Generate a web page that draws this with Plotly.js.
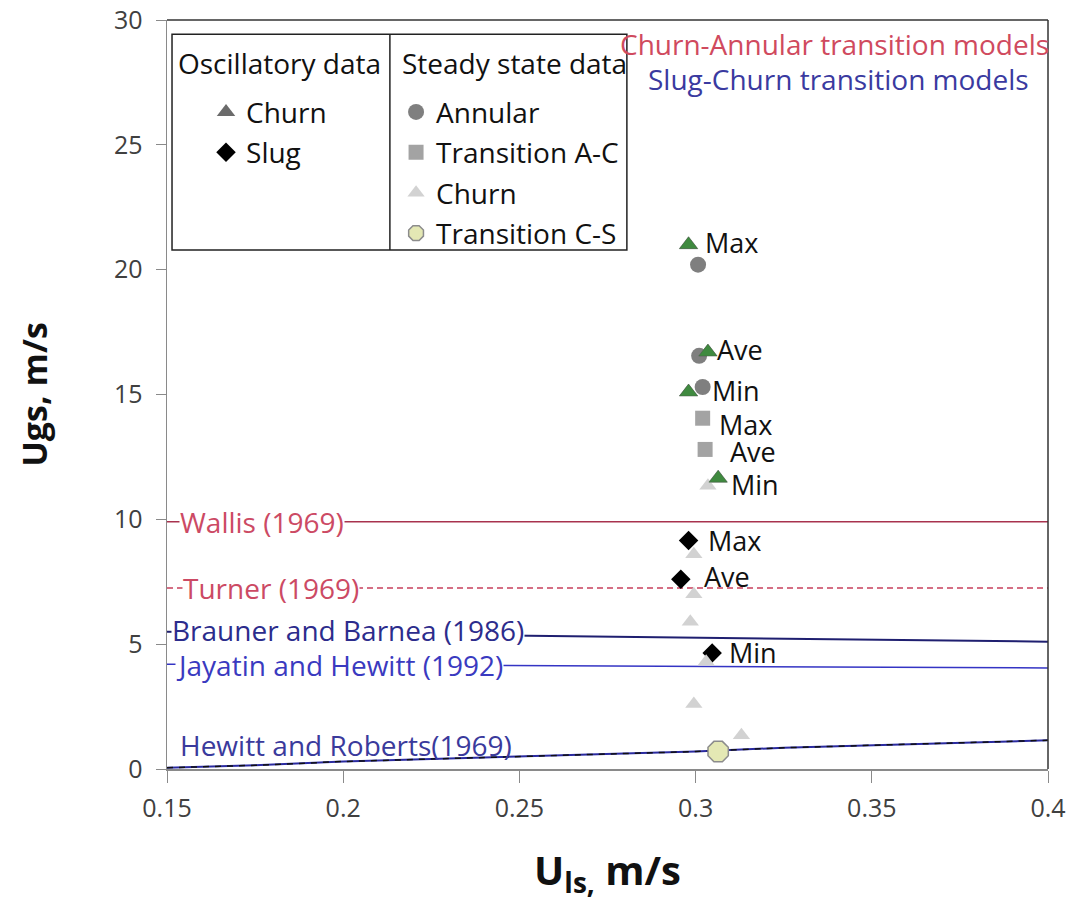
<!DOCTYPE html>
<html><head><meta charset="utf-8">
<script src="https://cdn.plot.ly/plotly-3.0.1.min.js"></script>
<style>body{margin:0;background:#fff}</style>
</head><body>
<div id="chart" style="width:1078px;height:901px"></div>
<script>
// ---- data ----
const oscChurnX = [0.298, 0.3035, 0.298, 0.3064];
const oscChurnY = [21.0, 16.7, 15.1, 11.65];
const oscSlugX = [0.298, 0.2958, 0.3047];
const oscSlugY = [9.15, 7.6, 4.65];
const annularX = [0.3007, 0.301, 0.302];
const annularY = [20.2, 16.55, 15.3];
const transACX = [0.302, 0.3027];
const transACY = [14.05, 12.8];
const ssChurnX = [0.3035, 0.2995, 0.2995, 0.2985, 0.303, 0.2995, 0.313];
const ssChurnY = [11.35, 8.6, 7.0, 5.9, 4.3, 2.6, 1.35];
const transCSX = [0.3064];
const transCSY = [0.7];

const modelX = [0.15, 0.4];
const wallisY = [9.9, 9.9];
const turnerY = [7.25, 7.25];
const braunerY = [5.5, 5.1];
const jayatinY = [4.2, 4.05];
const hewittX = [0.15, 0.175, 0.2, 0.225, 0.25, 0.275, 0.3, 0.325, 0.35, 0.375, 0.4];
const hewittY = [0.05, 0.15, 0.3, 0.4, 0.5, 0.6, 0.7, 0.85, 0.95, 1.05, 1.15];

const pointLabels = ["Max", "Ave", "Min", "Max", "Ave", "Min", "Max", "Ave", "Min"];
const pointLabelX = [0.3022, 0.3055, 0.3041, 0.3061, 0.3092, 0.3095, 0.3029, 0.3018, 0.3089];
const pointLabelY = [21.1, 16.8, 15.15, 13.8, 12.7, 11.4, 9.15, 7.7, 4.65];

const modelNames = ["Wallis (1969)", "Turner (1969)", "Brauner and Barnea (1986)", "Jayatin and Hewitt (1992)", "Hewitt and Roberts(1969)"];
const modelLabelX = [0.1535, 0.1543, 0.1511, 0.1522, 0.1535];
const modelLabelY = [9.9, 7.25, 5.55, 4.15, 0.98];
const modelColors = ["#cc4a64", "#cc4a64", "#2c2c8c", "#3a3ac0", "#3a3a9c"];
const modelLabelBg = ["#ffffff", "#ffffff", "#ffffff", "#ffffff", "rgba(0,0,0,0)"];

const xTicks = [0.15, 0.2, 0.25, 0.3, 0.35, 0.4];
const xTickText = ["0.15", "0.2", "0.25", "0.3", "0.35", "0.4"];
const yTicks = [0, 5, 10, 15, 20, 25, 30];

const FONT = "'Open Sans', 'Noto Sans', sans-serif";
const TXT = 28;

const traces = [
  {x: modelX, y: wallisY, mode: "lines", line: {color: "#a8324e", width: 1.5}, showlegend: false, hoverinfo: "skip"},
  {x: modelX, y: turnerY, mode: "lines", line: {color: "#c8405c", width: 1.5, dash: "6px,4px"}, showlegend: false, hoverinfo: "skip"},
  {x: modelX, y: braunerY, mode: "lines", line: {color: "#1f1f70", width: 2}, showlegend: false, hoverinfo: "skip"},
  {x: modelX, y: jayatinY, mode: "lines", line: {color: "#3434c4", width: 1.5}, showlegend: false, hoverinfo: "skip"},
  {x: hewittX, y: hewittY, mode: "lines", line: {color: "#2a2aa0", width: 2}, showlegend: false, hoverinfo: "skip"},
  {x: hewittX, y: hewittY, mode: "lines", line: {color: "#111", width: 1.5, dash: "6px,6px"}, showlegend: false, hoverinfo: "skip"},
  {x: oscChurnX, y: oscChurnY, mode: "markers", name: "Churn", legend: "legend", legendgroup: "a", marker: {symbol: "triangle-up", size: 16, color: "#6b6b6b"}},
  {x: oscSlugX, y: oscSlugY, mode: "markers", name: "Slug", legend: "legend", legendgroup: "b", marker: {symbol: "diamond", size: 15, color: "#000000"}},
  {x: annularX, y: annularY, mode: "markers", name: "Annular", legend: "legend2", legendgroup: "c", marker: {symbol: "circle", size: 16, color: "#7f7f7f"}},
  {x: transACX, y: transACY, mode: "markers", name: "Transition A-C", legend: "legend2", legendgroup: "d", marker: {symbol: "square", size: 15, color: "#a3a3a3"}},
  {x: ssChurnX, y: ssChurnY, mode: "markers", name: "Churn", legend: "legend2", legendgroup: "e", marker: {symbol: "triangle-up", size: 15, color: "#d2d2d2"}},
  {x: transCSX, y: transCSY, mode: "markers", name: "Transition C-S", legend: "legend2", legendgroup: "f", marker: {symbol: "octagon", size: 22, color: "#e4e8b4", line: {color: "#8c8c8c", width: 1.5}}},
  {x: oscChurnX, y: oscChurnY, mode: "markers", showlegend: false, hoverinfo: "skip", marker: {symbol: "triangle-up", size: 16, color: "#3f8a3f", line: {color: "#4a5a4a", width: 0.5}}}
];

const annotations = [];
pointLabels.forEach((t, i) => annotations.push({
  x: pointLabelX[i], y: pointLabelY[i], xref: "x", yref: "y", text: t, showarrow: false,
  xanchor: "left", yanchor: "middle", font: {family: FONT, size: 27, color: "#111"}
}));
modelNames.forEach((t, i) => annotations.push({
  x: modelLabelX[i], y: modelLabelY[i], xref: "x", yref: "y", text: t, showarrow: false,
  xanchor: "left", yanchor: "middle", bgcolor: modelLabelBg[i], borderpad: 0,
  font: {family: FONT, size: TXT, color: modelColors[i]}
}));
annotations.push(
  {x: 0.0102, y: 0.943, xref: "paper", yref: "paper", text: "Oscillatory data", showarrow: false, xanchor: "left", yanchor: "middle", font: {family: FONT, size: TXT, color: "#111"}},
  {x: 0.2645, y: 0.943, xref: "paper", yref: "paper", text: "Steady state data", showarrow: false, xanchor: "left", yanchor: "middle", font: {family: FONT, size: TXT, color: "#111"}},
  {x: 0.512, y: 0.968, xref: "paper", yref: "paper", text: "Churn-Annular transition models", showarrow: false, xanchor: "left", yanchor: "middle", font: {family: FONT, size: TXT, color: "#d04a5e"}},
  {x: 0.544, y: 0.921, xref: "paper", yref: "paper", text: "Slug-Churn transition models", showarrow: false, xanchor: "left", yanchor: "middle", font: {family: FONT, size: TXT, color: "#3a3aa0"}}
);

const legendCommon = {
  font: {family: FONT, size: TXT, color: "#111"}, bgcolor: "rgba(0,0,0,0)", borderwidth: 0,
  yanchor: "top", xanchor: "left", traceorder: "grouped", tracegroupgap: 1,
  itemclick: false, itemdoubleclick: false
};

const layout = {
  width: 1078, height: 901,
  margin: {l: 167, r: 30, t: 20, b: 132},
  paper_bgcolor: "#fff", plot_bgcolor: "#fff",
  font: {family: FONT, color: "#333"},
  xaxis: {
    range: [0.15, 0.4], tickvals: xTicks, ticktext: xTickText, showgrid: false, zeroline: false,
    showline: true, linecolor: "#8a8a8a", linewidth: 1.5,
    ticks: "outside", ticklen: 12, tickcolor: "#8a8a8a", ticklabelstandoff: 4,
    tickfont: {family: FONT, size: 25, color: "#404040"},
    title: {text: "<b>U<sub>ls,</sub> m/s</b>", font: {family: FONT, size: 40, color: "#111"}, standoff: 34}
  },
  yaxis: {
    range: [0, 30], tickvals: yTicks, showgrid: false, zeroline: false,
    showline: true, linecolor: "#8a8a8a", linewidth: 1.5,
    ticks: "outside", ticklen: 10, tickcolor: "#8a8a8a", ticklabelstandoff: 8,
    tickfont: {family: FONT, size: 25, color: "#404040"},
    title: {text: "<b>Ugs, m/s</b>", font: {family: FONT, size: 34, color: "#111"}, standoff: 56}
  },
  legend: Object.assign({x: 0.0443, y: 0.9103}, legendCommon),
  legend2: Object.assign({x: 0.26, y: 0.9103}, legendCommon),
  shapes: [
    {type: "line", xref: "paper", yref: "paper", x0: 0, x1: 1, y0: 1, y1: 1, line: {color: "#333", width: 1.5}},
    {type: "line", xref: "paper", yref: "paper", x0: 1, x1: 1, y0: 0, y1: 1, line: {color: "#333", width: 1.5}},
    {type: "rect", xref: "paper", yref: "paper", x0: 0.0057, x1: 0.522, y0: 0.693, y1: 0.981, line: {color: "#222", width: 1.5}},
    {type: "line", xref: "paper", yref: "paper", x0: 0.253, x1: 0.253, y0: 0.693, y1: 0.981, line: {color: "#222", width: 1.5}}
  ],
  annotations: annotations,
  showlegend: true
};

Plotly.newPlot("chart", traces, layout, {displayModeBar: false, staticPlot: true});
</script>
</body></html>
